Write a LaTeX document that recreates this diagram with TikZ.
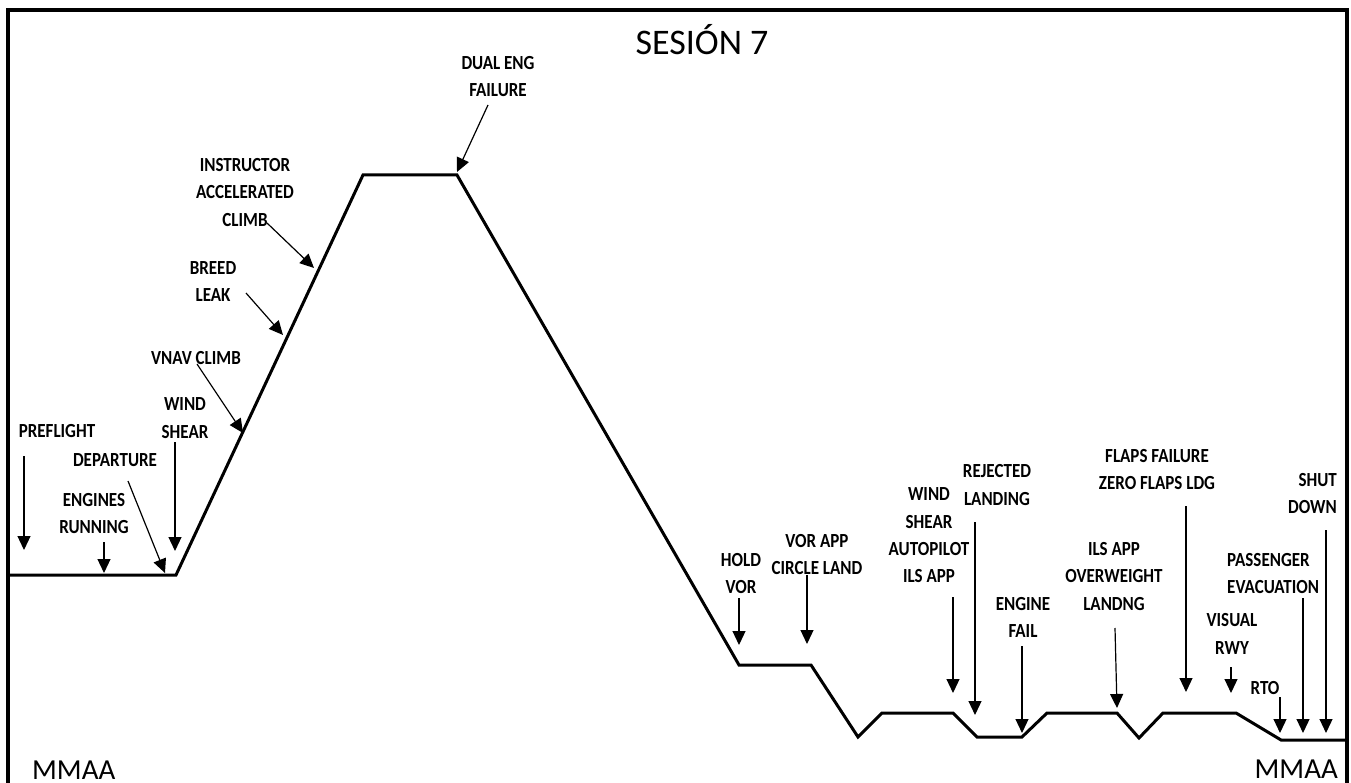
\documentclass[tikz,border=0pt]{standalone}
\usepackage{fontspec}
\setmainfont{Carlito}
\newfontfamily\lblfont[FakeStretch=0.85]{Carlito}
\usetikzlibrary{arrows.meta}

\begin{document}
\begin{tikzpicture}[x=1pt,y=-1pt,
	lbl/.style={font=\lblfont\bfseries\fontsize{20}{27.3}\selectfont,align=center,inner sep=0pt},
	evt/.style={-{Triangle[length=14pt,width=13pt]},line width=1.2pt},
	prof/.style={line width=3pt,line join=miter}]
	\useasboundingbox (0,0) rectangle (1351,783);
	
	% Define the points of the flight profile
	\coordinate (g0) at (8,575);
	\coordinate (g1) at (176,575);
	\coordinate (toc) at (363,175);
	\coordinate (tod) at (457,175);
	\coordinate (h0) at (739,665);
	\coordinate (h1) at (811,665);
	\coordinate (v0) at (858,737);
	\coordinate (v1) at (882,713);
	\coordinate (v2) at (953,713);
	\coordinate (v3) at (977,737);
	\coordinate (v4) at (1022,737);
	\coordinate (v5) at (1047,713);
	\coordinate (v6) at (1117,713);
	\coordinate (v7) at (1139,738);
	\coordinate (v8) at (1163,713);
	\coordinate (v9) at (1236,713);
	\coordinate (v10) at (1281,740);
	\coordinate (v11) at (1347,740);
	
	% Draw the frame and the profile
	\draw[line width=3.5pt] (8,783) -- (8,10) -- (1347,10) -- (1347,783);
	\draw[prof] (g0) -- (g1) -- (toc) -- (tod) -- (h0) -- (h1) -- (v0) -- (v1) -- (v2) -- (v3) -- (v4) -- (v5) -- (v6) -- (v7) -- (v8) -- (v9) -- (v10) -- (v11);
	
	% Titles
	\node[font=\fontsize{36}{40}\selectfont,anchor=base,inner sep=0pt] (title) at (702,55) {SESIÓN 7};
	\node[font=\fontsize{29}{32}\selectfont,anchor=base west,inner sep=0pt] (mmaaL) at (32,779) {MMAA};
	\node[font=\fontsize{29}{32}\selectfont,anchor=base east,inner sep=0pt] (mmaaR) at (1338,778) {MMAA};
	
	% Event labels
	\node[lbl] (pf) at (57,431) {PREFLIGHT};
	\node[lbl] (eng) at (94,513.5) {ENGINES\\RUNNING};
	\node[lbl] (dep) at (115,460) {DEPARTURE};
	\node[lbl] (ws1) at (185,418) {WIND\\SHEAR};
	\node[lbl] (vnav) at (196,358) {VNAV CLIMB};
	\node[lbl] (bleed) at (213,281.5) {BREED\\LEAK};
	\node[lbl] (inst) at (245,192.5) {INSTRUCTOR\\ACCELERATED\\CLIMB};
	\node[lbl] (dual) at (498,76.5) {DUAL ENG\\FAILURE};
	\node[lbl] (hold) at (741,573.5) {HOLD\\VOR};
	\node[lbl] (vor) at (817,554.5) {VOR APP\\CIRCLE LAND};
	\node[lbl] (ws2) at (929,535.5) {WIND\\SHEAR\\AUTOPILOT\\ILS APP};
	\node[lbl] (rej) at (997,485) {REJECTED\\LANDING};
	\node[lbl] (engf) at (1023,617.5) {ENGINE\\FAIL};
	\node[lbl] (ils) at (1114,576.5) {ILS APP\\OVERWEIGHT\\LANDNG};
	\node[lbl] (flaps) at (1157,469.5) {FLAPS FAILURE\\ZERO FLAPS LDG};
	\node[lbl,align=right,anchor=east] (shut) at (1337,493.5) {SHUT\\DOWN};
	\node[lbl,align=left,anchor=west] (pax) at (1227,573.5) {PASSENGER\\EVACUATION};
	\node[lbl] (vis) at (1232,634) {VISUAL\\RWY};
	\node[lbl] (rto) at (1265,688) {RTO};
	
	% Define the ends of the event arrows
	\coordinate (pf-a) at (24,456);     \coordinate (pf-b) at (24,550);
	\coordinate (eng-a) at (104,542);   \coordinate (eng-b) at (104,573);
	\coordinate (dep-a) at (128,481);   \coordinate (dep-b) at (165,573);
	\coordinate (ws1-a) at (175,442);   \coordinate (ws1-b) at (175,551);
	\coordinate (vnav-a) at (197,364);  \coordinate (vnav-b) at (243,433);
	\coordinate (bleed-a) at (246,293); \coordinate (bleed-b) at (283,335);
	\coordinate (inst-a) at (267,223);  \coordinate (inst-b) at (314,268);
	\coordinate (dual-a) at (488,105);  \coordinate (dual-b) at (457,172);
	\coordinate (hold-a) at (739,598);  \coordinate (hold-b) at (739,645);
	\coordinate (vor-a) at (807,575);   \coordinate (vor-b) at (807,644);
	\coordinate (ws2-a) at (953,597);   \coordinate (ws2-b) at (953,693);
	\coordinate (rej-a) at (975,522);   \coordinate (rej-b) at (975,715);
	\coordinate (engf-a) at (1022,646); \coordinate (engf-b) at (1022,733);
	\coordinate (ils-a) at (1115,628);  \coordinate (ils-b) at (1117,708);
	\coordinate (flaps-a) at (1186,506);\coordinate (flaps-b) at (1186,692);
	\coordinate (shut-a) at (1326,530); \coordinate (shut-b) at (1326,733);
	\coordinate (pax-a) at (1303,598);  \coordinate (pax-b) at (1303,733);
	\coordinate (vis-a) at (1231,667);  \coordinate (vis-b) at (1231,693);
	\coordinate (rto-a) at (1280,697);  \coordinate (rto-b) at (1280,733);
	
	% Draw the event arrows
	\foreach \e in {pf,eng,dep,ws1,vnav,bleed,inst,dual,hold,vor,ws2,rej,engf,ils,flaps,shut,pax,vis,rto}
		\draw[evt] (\e-a) -- (\e-b);
\end{tikzpicture}
\end{document}
